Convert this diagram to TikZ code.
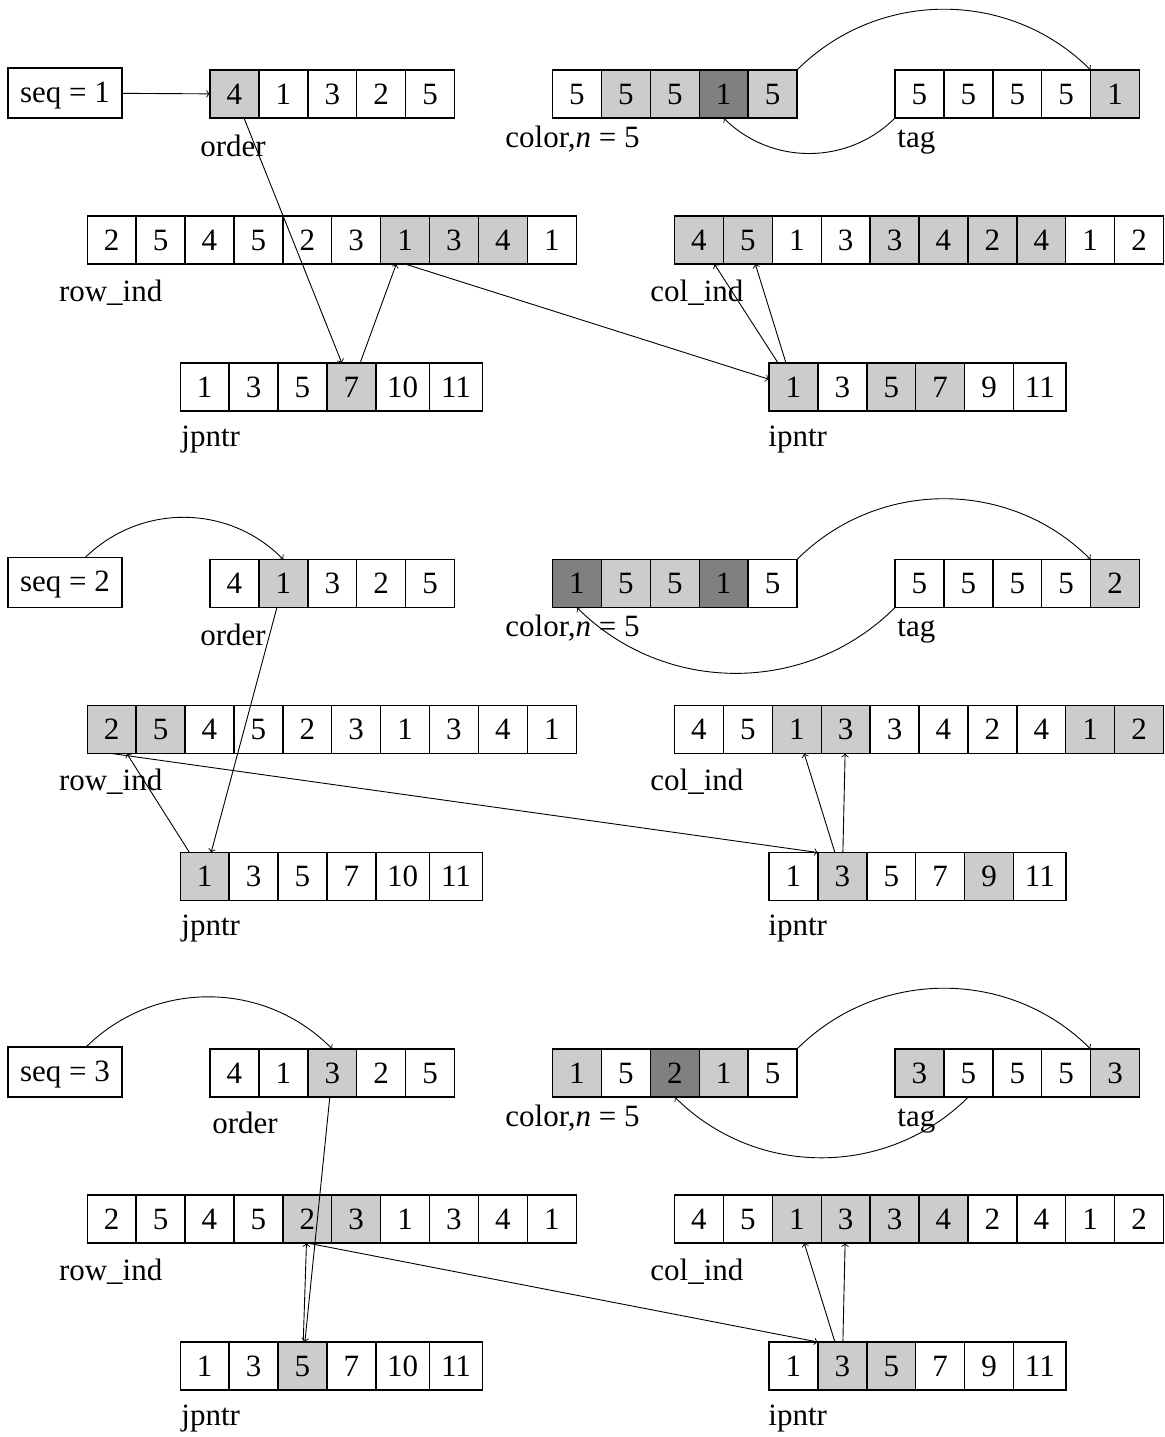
\documentclass[tikz,border=0pt]{standalone}
\usepackage{fontspec}
\setmainfont{Liberation Serif}
\colorlet{lg}{black!20}
\colorlet{dg}{black!50}
\tikzset{
  cell/.style={draw=black, line width=0.7pt, minimum width=24.45pt, minimum height=24pt, inner xsep=5.7pt, inner ysep=0pt, outer sep=0pt},
  seqbox/.style={draw=black, line width=0.7pt, minimum width=57pt, minimum height=25pt, outer sep=0pt, text height=10.7pt, text depth=1.5pt},
  lbl/.style={anchor=base west, inner sep=0pt},
  conn/.style={->, line width=0.45pt},
}
\newcommand{\cellrow}[3]{%
  \foreach \v/\f [count=\i] in {#3} {%
    \ifnum\i=1
      \node[cell, fill=\f, anchor=west] (#1-\i) at (#2) {\v};
    \else
      \pgfmathtruncatemacro{\j}{\i-1}%
      \node[cell, fill=\f, anchor=west] (#1-\i) at (#1-\j.east) {\v};
    \fi
  }%
}
\begin{document}
\begin{tikzpicture}[x=0.5pt, y=-0.5pt, font=\fontsize{15.5pt}{18pt}\selectfont]
\useasboundingbox (0,0) rectangle (1165,1437);

% ---------------- panel 1 ----------------
\begin{scope}
\node[seqbox] (a-seq) at (65,93) {seq = 1};
\cellrow{a-o}{210,94}{4/lg,1/white,3/white,2/white,5/white}
\cellrow{a-c}{552.5,94}{5/white,5/lg,5/lg,1/dg,5/lg}
\cellrow{a-t}{895,94}{5/white,5/white,5/white,5/white,1/lg}
\cellrow{a-r}{87.2,240}{2/white,5/white,4/white,5/white,2/white,3/white,1/lg,3/lg,4/lg,1/white}
\cellrow{a-k}{674.5,240}{4/lg,5/lg,1/white,3/white,3/lg,4/lg,2/lg,4/lg,1/white,2/white}
\cellrow{a-j}{180.2,387}{1/white,3/white,5/white,7/lg,10/white,11/white}
\cellrow{a-i}{769,387}{1/lg,3/white,5/lg,7/lg,9/white,11/white}
\node[lbl] (a-lo) at (200,156) {order};
\node[lbl] (a-lc) at (505,147) {color,\textit{n} = 5};
\node[lbl] (a-lt) at (897,147) {tag};
\node[lbl] (a-lr) at (58.6,301) {row\_ind};
\node[lbl] (a-lk) at (650,301) {col\_ind};
\node[lbl] (a-lj) at (181,446) {jpntr};
\node[lbl] (a-li) at (768,446) {ipntr};
\draw[conn] (a-seq) -- (a-o-1);
\draw[conn] (a-o-1) -- (a-j-4);
\draw[conn] (a-j-4) -- (a-r-7);
\draw[conn] (a-r-7.south) -- (a-i-1);
\draw[conn] (a-i-1) -- (a-k-1);
\draw[conn] (a-i-1) -- (a-k-2);
\draw[conn] (a-c-5.north east) to[bend left=45] (a-t-5.north west);
\draw[conn] (a-t-1.south west) to[bend left=45] (a-c-4.south);
\end{scope}

% ---------------- panel 2 ----------------
\begin{scope}[shift={(0,489.5)}]
\node[seqbox] (b-seq) at (65,93) {seq = 2};
\cellrow{b-o}{210,94}{4/white,1/lg,3/white,2/white,5/white}
\cellrow{b-c}{552.5,94}{1/dg,5/lg,5/lg,1/dg,5/white}
\cellrow{b-t}{895,94}{5/white,5/white,5/white,5/white,2/lg}
\cellrow{b-r}{87.2,240}{2/lg,5/lg,4/white,5/white,2/white,3/white,1/white,3/white,4/white,1/white}
\cellrow{b-k}{674.5,240}{4/white,5/white,1/lg,3/lg,3/white,4/white,2/white,4/white,1/lg,2/lg}
\cellrow{b-j}{180.2,387}{1/lg,3/white,5/white,7/white,10/white,11/white}
\cellrow{b-i}{769,387}{1/white,3/lg,5/white,7/white,9/lg,11/white}
\node[lbl] (b-lo) at (200,156) {order};
\node[lbl] (b-lc) at (505,147) {color,\textit{n} = 5};
\node[lbl] (b-lt) at (897,147) {tag};
\node[lbl] (b-lr) at (58.6,301) {row\_ind};
\node[lbl] (b-lk) at (650,301) {col\_ind};
\node[lbl] (b-lj) at (181,446) {jpntr};
\node[lbl] (b-li) at (768,446) {ipntr};
\draw[conn] (b-seq) to[bend left=45] (b-o-2.north);
\draw[conn] (b-o-2) -- (b-j-1);
\draw[conn] (b-j-1) -- (b-r-1);
\draw[conn] (b-r-1.south) -- (b-i-2.north west);
\draw[conn] (b-i-2) -- (b-k-3);
\draw[conn] (b-i-2) -- (b-k-4);
\draw[conn] (b-c-5.north east) to[bend left=45] (b-t-5.north west);
\draw[conn] (b-t-1.south west) to[bend left=45] (b-c-1.south);
\end{scope}

% ---------------- panel 3 ----------------
\begin{scope}[shift={(0,979)}]
\node[seqbox] (c-seq) at (65,93) {seq = 3};
\cellrow{c-o}{210,94}{4/white,1/white,3/lg,2/white,5/white}
\cellrow{c-c}{552.5,94}{1/lg,5/white,2/dg,1/lg,5/white}
\cellrow{c-t}{895,94}{3/lg,5/white,5/white,5/white,3/lg}
\cellrow{c-r}{87.2,240}{2/white,5/white,4/white,5/white,2/lg,3/lg,1/white,3/white,4/white,1/white}
\cellrow{c-k}{674.5,240}{4/white,5/white,1/lg,3/lg,3/lg,4/lg,2/white,4/white,1/white,2/white}
\cellrow{c-j}{180.2,387}{1/white,3/white,5/lg,7/white,10/white,11/white}
\cellrow{c-i}{769,387}{1/white,3/lg,5/lg,7/white,9/white,11/white}
\node[lbl] (c-lo) at (212,154) {order};
\node[lbl] (c-lc) at (505,147) {color,\textit{n} = 5};
\node[lbl] (c-lt) at (897,147) {tag};
\node[lbl] (c-lr) at (58.6,301) {row\_ind};
\node[lbl] (c-lk) at (650,301) {col\_ind};
\node[lbl] (c-lj) at (181,446) {jpntr};
\node[lbl] (c-li) at (768,446) {ipntr};
\draw[conn] (c-seq) to[bend left=45] (c-o-3.north);
\draw[conn] (c-o-3) -- (c-j-3);
\draw[conn] (c-j-3) -- (c-r-5);
\draw[conn] (c-r-5.south) -- (c-i-2.north west);
\draw[conn] (c-i-2) -- (c-k-3);
\draw[conn] (c-i-2) -- (c-k-4);
\draw[conn] (c-c-5.north east) to[bend left=45] (c-t-5.north west);
\draw[conn] (c-t-2.south) to[bend left=45] (c-c-3.south);
\end{scope}
\end{tikzpicture}
\end{document}
